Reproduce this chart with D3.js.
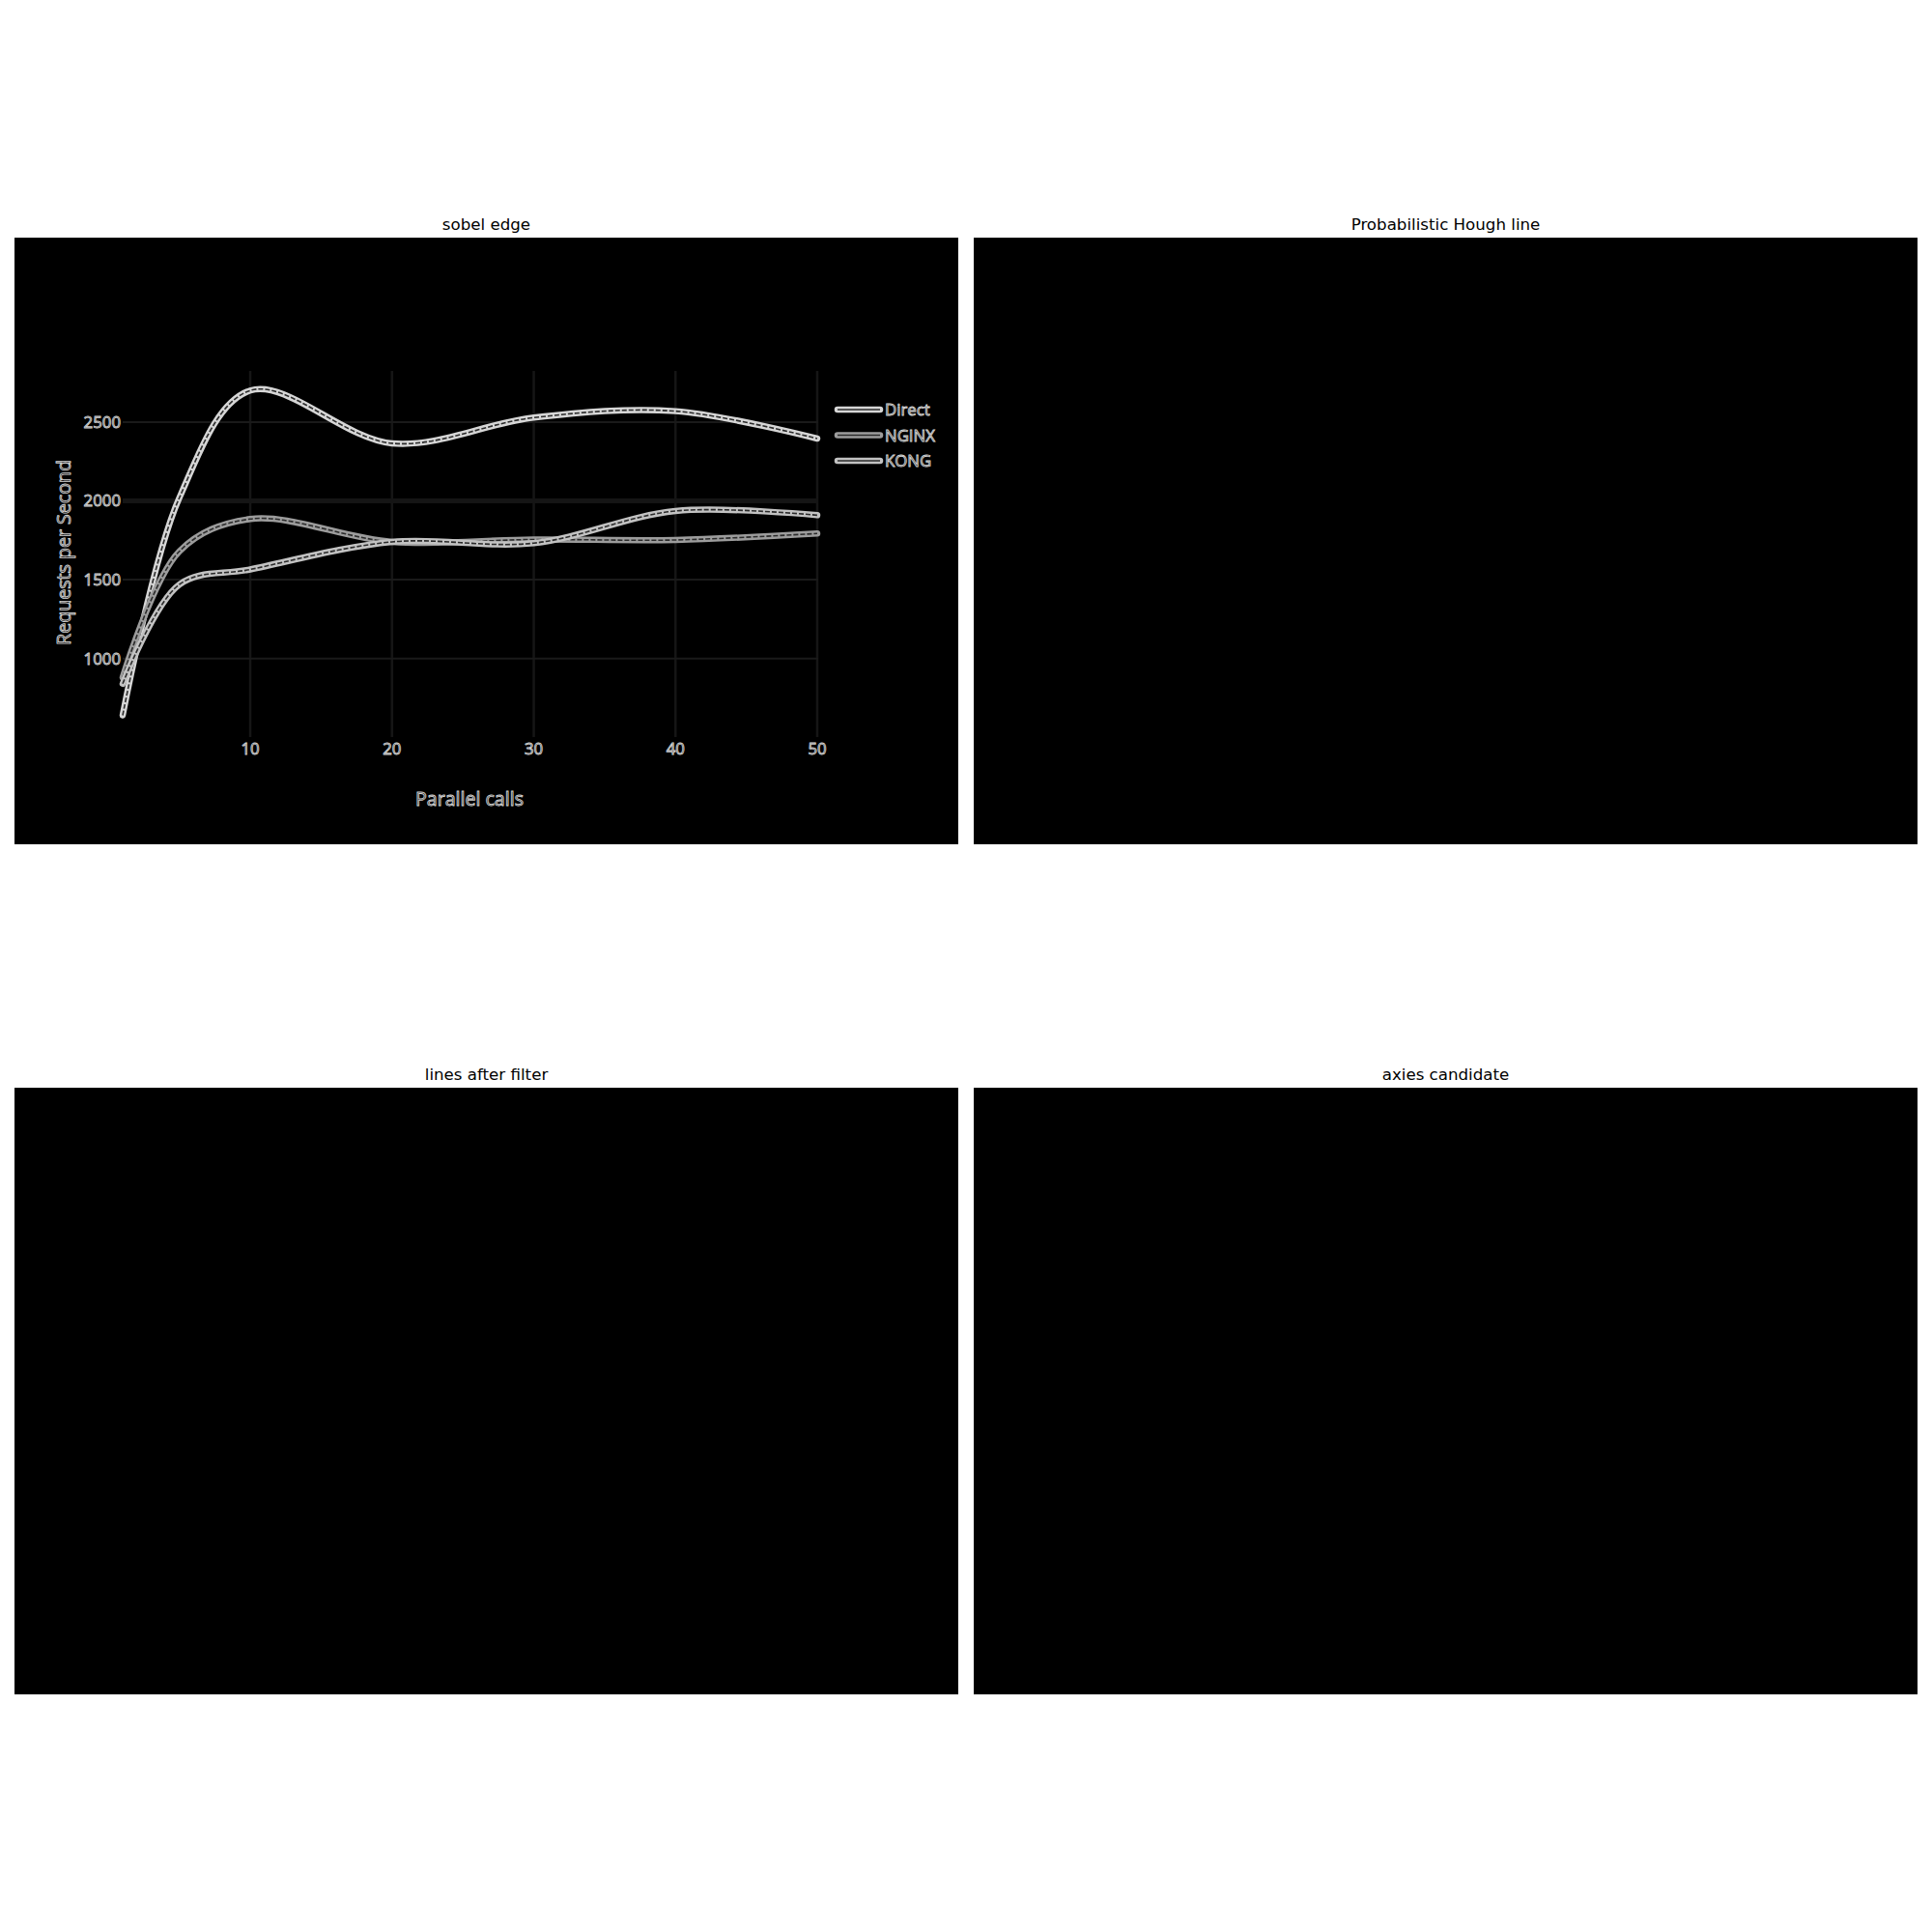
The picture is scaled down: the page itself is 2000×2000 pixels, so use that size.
<!DOCTYPE html>
<html>
<head>
<meta charset="utf-8">
<script src="https://cdn.jsdelivr.net/npm/d3@7"></script>
<style>
  html, body { margin: 0; padding: 0; background: #ffffff; }
  svg { display: block; }
</style>
</head>
<body>
<div id="chart"></div>
<script>
// ---------------- data ----------------
const panelTitles = ["sobel edge", "Probabilistic Hough line", "lines after filter", "axies candidate"];
const seriesNames = ["Direct", "NGINX", "KONG"];
const parallelCalls = [1, 5, 10, 20, 30, 40, 50];
const directRps = [640, 2020, 2700, 2365, 2528, 2569, 2395];
const nginxRps  = [880, 1680, 1885, 1740, 1755, 1752, 1793];
const kongRps   = [840, 1470, 1565, 1740, 1732, 1936, 1909];
const xTickValues = [10, 20, 30, 40, 50];
const yTickValues = [1000, 1500, 2000, 2500];
const xAxisTitle = "Parallel calls";
const yAxisTitle = "Requests per Second";

// ---------------- layout ----------------
const W = 2000, H = 2000;
const svg = d3.select("#chart").append("svg")
  .attr("width", W).attr("height", H)
  .style("font-family", "'DejaVu Sans', sans-serif");
svg.append("rect").attr("width", W).attr("height", H).attr("fill", "#ffffff");

const colX = [15, 1008], rowY = [246, 1126];
const panelW = 977, panelH = 628;
const panels = panelTitles.map((t, i) => ({
  title: t, x: colX[i % 2], y: rowY[Math.floor(i / 2)]
}));

const pg = svg.selectAll("g.panel").data(panels).join("g").attr("class", "panel");
pg.append("rect")
  .attr("x", d => d.x).attr("y", d => d.y)
  .attr("width", panelW).attr("height", panelH)
  .attr("fill", "#000000");
pg.append("text")
  .attr("x", d => d.x + panelW / 2).attr("y", d => d.y - 8)
  .attr("text-anchor", "middle")
  .attr("font-size", 16.67)
  .attr("fill", "#000")
  .text(d => d.title);

// ---------------- sobel-edge chart (top-left) ----------------
const g = svg.append("g");
const x = d3.scaleLinear().domain([1, 50]).range([127, 846]);
const y = d3.scaleLinear().domain([502, 2824]).range([763, 384]);

const fontUI = "'Open Sans', 'Noto Sans', sans-serif";
function edgeText(sel) {
  return sel.attr("fill", "#151515").attr("stroke", "#d2d2d2")
    .attr("stroke-width", 0.9).style("font-family", fontUI);
}

// grid lines
g.selectAll("line.vgrid").data(xTickValues).join("line")
  .attr("x1", d => x(d)).attr("x2", d => x(d))
  .attr("y1", y.range()[1]).attr("y2", y.range()[0])
  .attr("stroke", "#161616").attr("stroke-width", 2.5);
g.selectAll("line.hgrid").data(yTickValues).join("line")
  .attr("x1", x.range()[0]).attr("x2", x.range()[1] + 1)
  .attr("y1", d => y(d)).attr("y2", d => y(d))
  .attr("stroke", d => d === 2000 ? "#151515" : "#1a1a1a")
  .attr("stroke-width", d => d === 2000 ? 5 : 2);

// tick labels
edgeText(g.selectAll("text.xt").data(xTickValues).join("text")
  .attr("x", d => x(d)).attr("y", 781)
  .attr("text-anchor", "middle").attr("font-size", 16.8)
  .text(d => d));
edgeText(g.selectAll("text.yt").data(yTickValues).join("text")
  .attr("x", 125).attr("y", d => y(d) + 6)
  .attr("text-anchor", "end").attr("font-size", 16.8)
  .text(d => d));

// axis titles
edgeText(g.append("text")
  .attr("x", 486).attr("y", 834)
  .attr("text-anchor", "middle").attr("font-size", 19.6)
  .text(xAxisTitle));
edgeText(g.append("text")
  .attr("transform", "translate(73,572) rotate(-90)")
  .attr("text-anchor", "middle").attr("font-size", 19.6)
  .text(yAxisTitle));

// series
const seriesData = [directRps, nginxRps, kongRps];
const edgeColors = ["#d6d6d6", "#9c9c9c", "#c2c2c2"];
const series = seriesNames.map((name, i) => ({
  name, color: edgeColors[i],
  points: parallelCalls.map((c, j) => ({ c, v: seriesData[i][j] }))
}));
const line = d3.line().x(d => x(d.c)).y(d => y(d.v)).curve(d3.curveCatmullRom.alpha(0.5));

const sg = g.selectAll("g.series").data(series).join("g").attr("class", "series");
sg.append("path").attr("d", d => line(d.points))
  .attr("fill", "none").attr("stroke", d => d.color).attr("stroke-width", 6.5)
  .attr("stroke-linecap", "round");
sg.append("path").attr("d", d => line(d.points))
  .attr("fill", "none").attr("stroke", "#2b2b2b").attr("stroke-width", 1.6)
  .attr("stroke-dasharray", "5,2");

// legend
const legY = d3.scalePoint().domain(seriesNames).range([424, 477]);
const lg = g.selectAll("g.leg").data(series).join("g").attr("class", "leg");
lg.append("line").attr("x1", 867).attr("x2", 911)
  .attr("y1", d => legY(d.name)).attr("y2", d => legY(d.name))
  .attr("stroke", d => d.color).attr("stroke-width", 6.5).attr("stroke-linecap", "round");
lg.append("line").attr("x1", 867).attr("x2", 911)
  .attr("y1", d => legY(d.name)).attr("y2", d => legY(d.name))
  .attr("stroke", "#2b2b2b").attr("stroke-width", 1.6);
edgeText(lg.append("text").attr("x", 916).attr("y", d => legY(d.name) + 6)
  .attr("font-size", 16.8).text(d => d.name));
</script>
</body>
</html>
